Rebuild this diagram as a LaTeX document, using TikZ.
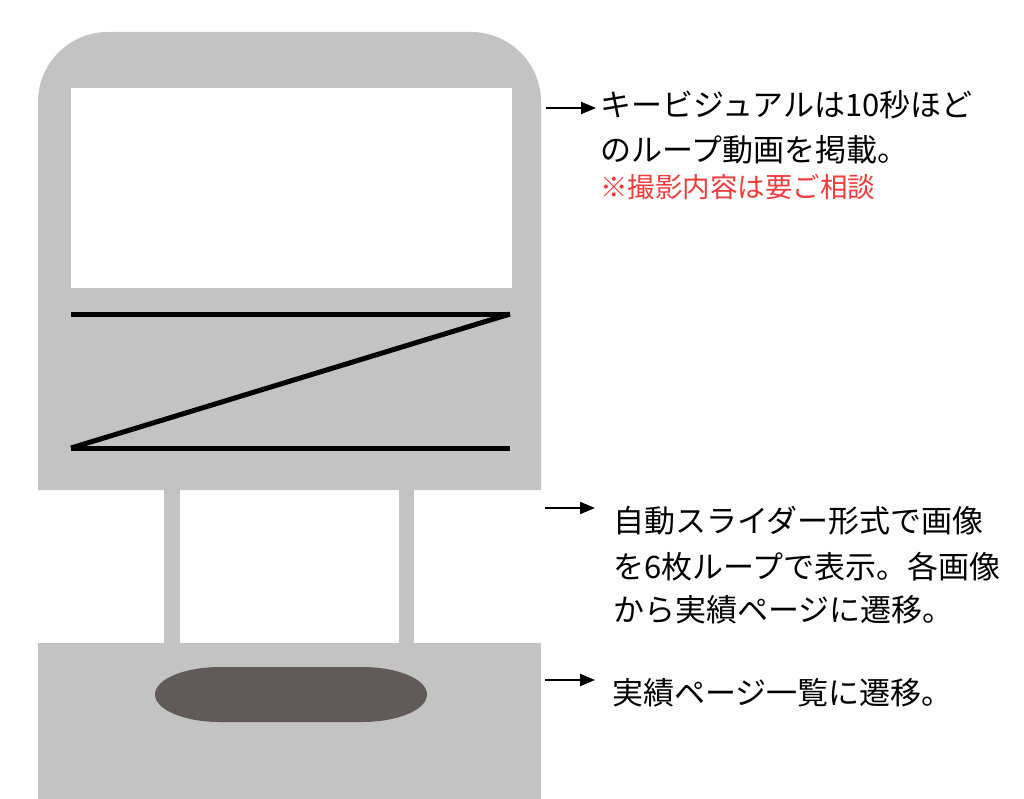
\documentclass[tikz,border=0pt]{standalone}
\usepackage{fontspec}
\setmainfont{Noto Sans CJK JP}
\usetikzlibrary{arrows.meta}
\definecolor{panel}{HTML}{C3C3C3}
\definecolor{pill}{HTML}{625A59}
\definecolor{note}{HTML}{F23C3C}
\tikzset{
  txt/.style={anchor=base west, inner sep=0pt, font=\fontsize{31}{40}\selectfont},
  redtxt/.style={anchor=base west, inner sep=0pt, text=note, font=\fontsize{27.5}{36}\selectfont},
  pointer/.style={line width=2pt, -{Triangle[length=15pt,width=12pt]}},
  zline/.style={line width=5pt}
}
\begin{document}
\begin{tikzpicture}[x=1pt,y=-1pt]
\useasboundingbox (0,0) rectangle (1024,799);
\fill[white] (0,0) rectangle (1024,799);
% top panel
\fill[panel] (38,490) [rounded corners=70pt] -- (38,32) -- (541,32) [sharp corners] -- (541,490) -- cycle;
\fill[white] (71,88) rectangle (512,288);
% Z lines
\coordinate (z1) at (71,314);
\coordinate (z2) at (510,314);
\coordinate (z3) at (71,448);
\coordinate (z4) at (510,448);
\draw[zline] (z1) -- (z2);
\draw[zline] (z2) -- (z3);
\draw[zline] (z3) -- (z4);
% pillars
\fill[panel] (164,490) rectangle (180,643);
\fill[panel] (399,490) rectangle (414,643);
% bottom panel
\fill[panel] (38,643) rectangle (541,799);
\fill[pill] (220,667) -- (362,667) arc[start angle=-90, end angle=90, x radius=65pt, y radius=-27.5pt]
  -- (220,722) arc[start angle=90, end angle=270, x radius=65pt, y radius=-27.5pt] -- cycle;
% texts
\node[txt] (t1a) at (600,117) {キービジュアルは10秒ほど};
\node[txt] (t1b) at (600,162) {のループ動画を掲載。};
\node[redtxt] (t1c) at (600,198) {※撮影内容は要ご相談};
\node[txt] (t2a) at (613,532) {自動スライダー形式で画像};
\node[txt] (t2b) at (613,578) {を6枚ループで表示。各画像};
\node[txt] (t2c) at (613,621) {から実績ページに遷移。};
\node[txt] (t3a) at (612,704) {実績ページ一覧に遷移。};
% arrows
\coordinate (a1s) at (546,108); \coordinate (a1e) at (596,108);
\coordinate (a2s) at (545,508); \coordinate (a2e) at (595,508);
\coordinate (a3s) at (545,680); \coordinate (a3e) at (595,680);
\draw[pointer] (a1s) -- (a1e);
\draw[pointer] (a2s) -- (a2e);
\draw[pointer] (a3s) -- (a3e);
\end{tikzpicture}
\end{document}
